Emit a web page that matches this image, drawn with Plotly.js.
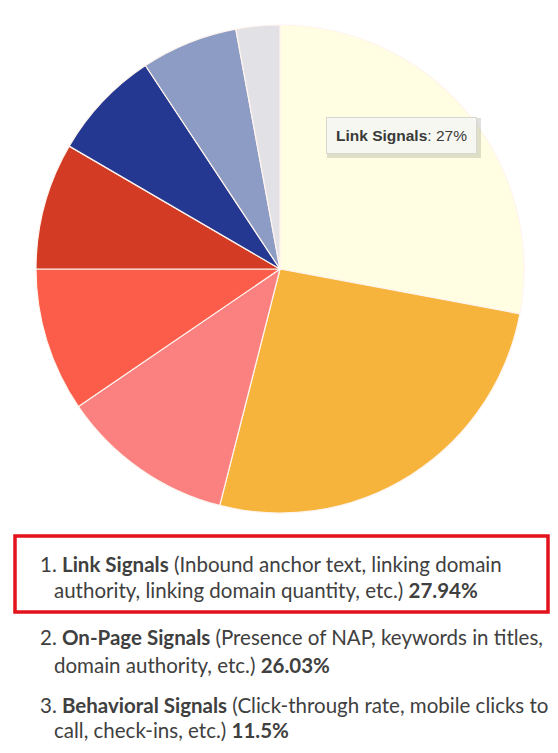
<!DOCTYPE html>
<html>
<head>
<meta charset="utf-8">
<script src="https://cdn.plot.ly/plotly-3.0.1.min.js"></script>
<style>
  html, body { margin: 0; padding: 0; background: #ffffff; }
  #chart { width: 558px; height: 753px; }
</style>
</head>
<body>
<div id="chart"></div>
<script>
// ---- Data ----
const labels = ["Link Signals", "On-Page Signals", "Behavioral Signals", "Personalization",
                "Citation Signals", "My Business Signals", "Review Signals", "Social Signals"];
const values = [27.94, 26.03, 11.5, 9.53, 8.4, 7.3, 6.4, 2.9];
const sliceColors = ["#fffee3", "#f6b43c", "#fb8180", "#fb5d4a", "#d33b25", "#253891", "#8c9cc4", "#e1e1e6"];

const listNames = ["Link Signals", "On-Page Signals", "Behavioral Signals"];
const listLine1 = ["(Inbound anchor text, linking domain",
                   "(Presence of NAP, keywords in titles,",
                   "(Click-through rate, mobile clicks to"];
const listLine2 = ["authority, linking domain quantity, etc.)",
                   "domain authority, etc.)",
                   "call, check-ins, etc.)"];
const listPct = values.slice(0, 3).map(v => v + "%");
const tooltipPct = [27];

// ---- Layout helpers (pixel -> paper) ----
const W = 558, H = 753;
const px = x => x / W;
const py = y => 1 - y / H;

const cx = 280, cy = 269, r = 244;

const trace = {
  type: "pie",
  labels: labels,
  values: values,
  sort: false,
  direction: "clockwise",
  rotation: 0,
  textinfo: "none",
  hoverinfo: "label+percent",
  marker: { colors: sliceColors, line: { color: "#fff4ee", width: 1.2 } },
  domain: { x: [px(cx - r), px(cx + r)], y: [py(cy + r), py(cy - r)] },
  showlegend: false
};

const textFont = { family: "Lato, 'Open Sans', sans-serif", size: 20.5, color: "#404040" };
const lineY = [[564, 590], [637, 665], [705, 730]];
const annotations = [];
for (let i = 0; i < listNames.length; i++) {
  annotations.push({
    xref: "paper", yref: "paper", x: px(38), y: py(lineY[i][0]),
    xanchor: "left", yanchor: "middle", showarrow: false, font: textFont,
    text: (i + 1) + ". <b>" + listNames[i] + "</b> " + listLine1[i]
  });
  annotations.push({
    xref: "paper", yref: "paper", x: px(52), y: py(lineY[i][1]),
    xanchor: "left", yanchor: "middle", showarrow: false, font: textFont,
    text: listLine2[i] + " <b>" + listPct[i] + "</b>"
  });
}
// Tooltip-like label on the Link Signals slice
annotations.push({
  xref: "paper", yref: "paper", x: px(401), y: py(135),
  xanchor: "center", yanchor: "middle", showarrow: false,
  text: "<b>" + labels[0] + "</b>: " + tooltipPct[0] + "%",
  font: { family: "'Liberation Sans', Arial, sans-serif", size: 15.5, color: "#3a3a3a" },
  bgcolor: "#f7f7f1", bordercolor: "#d8d8d0", borderwidth: 1, borderpad: 9
});

const shapes = [
  { type: "rect", xref: "paper", yref: "paper", layer: "above",
    x0: px(327), x1: px(481), y0: py(158), y1: py(118),
    fillcolor: "rgba(110,110,100,0.22)", line: { width: 0 } },
  { type: "rect", xref: "paper", yref: "paper", layer: "above",
    x0: px(15), x1: px(548), y0: py(612), y1: py(536),
    fillcolor: "rgba(0,0,0,0)", line: { color: "#e3121c", width: 3.5 } }
];

const layout = {
  width: W, height: H,
  margin: { l: 0, r: 0, t: 0, b: 0 },
  paper_bgcolor: "#ffffff",
  plot_bgcolor: "#ffffff",
  showlegend: false,
  annotations: annotations,
  shapes: shapes
};

Plotly.newPlot("chart", [trace], layout, { displayModeBar: false, staticPlot: true });
</script>
</body>
</html>
